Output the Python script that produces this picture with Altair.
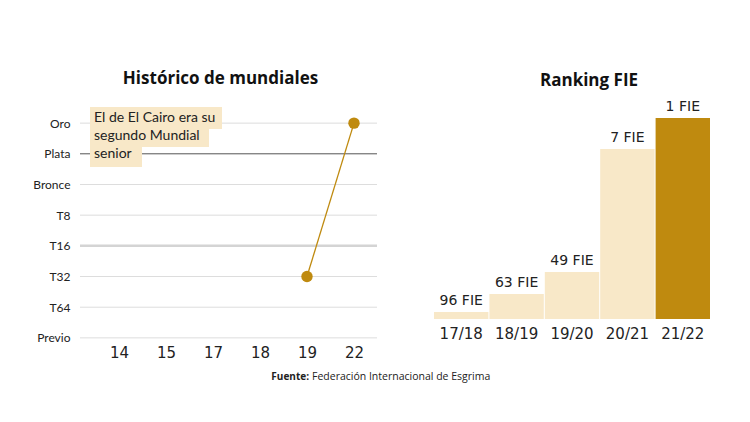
import altair as alt
import pandas as pd

# ---- data ----
niveles = ["Oro", "Plata", "Bronce", "T8", "T16", "T32", "T64", "Previo"]
anios = ["14", "15", "17", "18", "19", "22"]
resultado_anio = ["19", "22"]
resultado_nivel = ["T32", "Oro"]

temporadas = ["17/18", "18/19", "19/20", "20/21", "21/22"]
ranking = [96, 63, 49, 7, 1]
altura = [7, 25, 47, 170, 201]

nota = ["El de El Cairo era su", "segundo Mundial", "senior"]

ORO = "#BF8A0F"
CREMA = "#F8E8C8"
TXT = "#222222"

W1, H1 = 297, 227
W2, H2 = 276, 202

grid_df = pd.DataFrame({"nivel": niveles})
res_df = pd.DataFrame({"anio": resultado_anio, "nivel": resultado_nivel})
one = pd.DataFrame({"k": [0]})

yscale = alt.Scale(type="point", domain=niveles, padding=0.2)
xscale = alt.Scale(type="point", domain=anios, padding=0.66)

yaxis = alt.Axis(title=None, domain=False, ticks=False, grid=False, labelPadding=18,
                 labelFont="Lato", labelFontSize=12, labelColor=TXT)
xaxis = alt.Axis(title=None, domain=False, ticks=False, grid=False, labelPadding=1,
                 labelFont="DejaVu Sans", labelFontSize=15, labelColor=TXT, labelAngle=0)

Y = alt.Y("nivel:N", scale=yscale, axis=yaxis)

def grid_layer(filtro, color, width):
    return alt.Chart(grid_df).transform_filter(filtro).mark_rule(color=color, strokeWidth=width).encode(
        y=Y, x=alt.value(-8), x2=alt.value(W1 - 8)
    )

g_normal = grid_layer("datum.nivel != 'Plata' && datum.nivel != 'T16'", "#DDDDDD", 1)
g_plata = grid_layer("datum.nivel == 'Plata'", "#555555", 1)
g_t16 = grid_layer("datum.nivel == 'T16'", "#D4D4D4", 2.5)

# annotation boxes
boxes = []
box_specs = [(2, 134, -10, 12), (2, 121, 12, 30), (2, 54, 30, 50)]
for (a, b, c, d) in box_specs:
    boxes.append(alt.Chart(one).mark_rect(color=CREMA).encode(
        x=alt.value(a), x2=alt.value(b), y=alt.value(c), y2=alt.value(d)))
texts = []
for i, t in enumerate(nota):
    texts.append(alt.Chart(one).mark_text(text=t, align="left", baseline="middle", font="Lato",
                                          fontSize=14, color=TXT).encode(
        x=alt.value(6), y=alt.value(1 + 18 * i)))

linea = alt.Chart(res_df).mark_line(color=ORO, strokeWidth=1.3).encode(
    x=alt.X("anio:N", scale=xscale, axis=xaxis), y=Y)
puntos = alt.Chart(res_df).mark_circle(size=130, color=ORO, opacity=1).encode(
    x=alt.X("anio:N", scale=xscale, axis=xaxis), y=Y)

fuente_b = alt.Chart(one).mark_text(text="Fuente:", align="right", baseline="middle", font="Open Sans",
                                    fontSize=10, fontWeight="bold", color=TXT).encode(
    x=alt.value(221), y=alt.value(260))
fuente_t = alt.Chart(one).mark_text(text="Federación Internacional de Esgrima", align="left", baseline="middle",
                                    font="Open Sans", fontSize=10.5, color=TXT).encode(
    x=alt.value(224), y=alt.value(260))

izq = alt.layer(g_normal, g_t16, g_plata, *boxes, *texts, linea, puntos, fuente_b, fuente_t).properties(
    width=W1, height=H1,
    title=alt.TitleParams("Histórico de mundiales", font="Open Sans", fontSize=17, fontWeight="bold",
                          color="#111111", anchor="middle", frame="group", dx=-16, offset=19))

# ---- right chart ----
rank_df = pd.DataFrame({
    "temporada": temporadas,
    "ranking": ranking,
    "altura": altura,
})
rank_df["etiqueta"] = rank_df["ranking"].astype(str) + " FIE"

xb = alt.X("temporada:N", sort=temporadas, scale=alt.Scale(paddingInner=0.018, paddingOuter=0),
           axis=alt.Axis(title=None, domain=False, ticks=False, labelPadding=7, labelFont="DejaVu Sans",
                         labelFontSize=15, labelAngle=0, labelColor=TXT))
yb = alt.Y("altura:Q", scale=alt.Scale(domain=[0, 202]), axis=None)

barras = alt.Chart(rank_df).mark_bar().encode(
    x=xb, y=yb,
    color=alt.condition(alt.datum.temporada == "21/22", alt.value(ORO), alt.value(CREMA)))
etiquetas = alt.Chart(rank_df).mark_text(dy=-7, baseline="alphabetic", font="DejaVu Sans",
                                         fontSize=14, color=TXT).encode(x=xb, y=yb, text="etiqueta:N")

der = alt.layer(barras, etiquetas).properties(
    width=W2, height=H2,
    title=alt.TitleParams("Ranking FIE", font="Open Sans", fontSize=17, fontWeight="bold",
                          color="#111111", anchor="middle", frame="group", dx=17, offset=10))

chart = alt.hconcat(izq, der, spacing=49, bounds="flush").properties(
    padding={"left": 24, "top": 62, "right": 5, "bottom": 5}
).configure(background="white").configure_view(strokeWidth=0)

chart.save("out.html", embed_options={"renderer": "svg", "actions": False})
